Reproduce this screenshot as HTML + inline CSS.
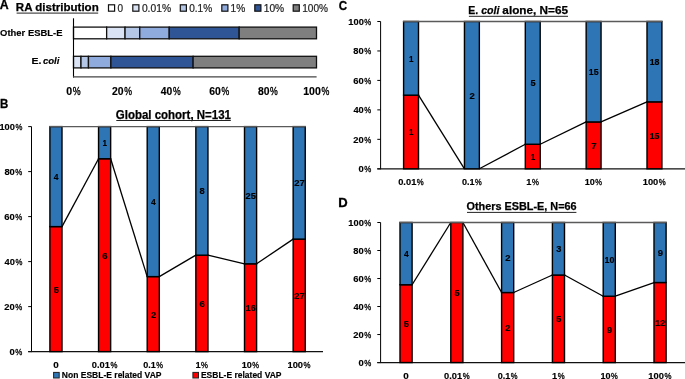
<!DOCTYPE html>
<html><head><meta charset="utf-8"><style>
html,body{margin:0;padding:0;background:#fff;}
svg{display:block;will-change:transform;}
text{font-family:"Liberation Sans",sans-serif;}
</style></head><body>
<svg width="685" height="379" viewBox="0 0 685 379">
<rect width="685" height="379" fill="#fff"/>
<text x="-0.31" y="8.80" font-size="12.65" textLength="8.93" lengthAdjust="spacingAndGlyphs" fill="#000" stroke="#000" stroke-width="0.30" style="font-weight:bold;">A</text>
<text x="15.83" y="10.90" font-size="11.34" textLength="82.88" lengthAdjust="spacingAndGlyphs" fill="#000" stroke="#000" stroke-width="0.25" style="font-weight:bold;">RA distribution</text>
<line x1="16.60" y1="13.10" x2="98.20" y2="13.10" stroke="#222" stroke-width="1.00"/>
<rect x="108.50" y="4.80" width="6.10" height="6.40" fill="#FFFFFF" stroke="#111" stroke-width="1.20"/>
<text x="117.61" y="11.50" font-size="10.17" textLength="5.58" lengthAdjust="spacingAndGlyphs" fill="#222" stroke="#222" stroke-width="0.20" style="font-weight:normal;">0</text>
<rect x="132.80" y="4.80" width="6.10" height="6.40" fill="#DAE3F3" stroke="#111" stroke-width="1.20"/>
<text x="141.90" y="11.50" font-size="10.17" textLength="29.17" lengthAdjust="spacingAndGlyphs" fill="#222" stroke="#222" stroke-width="0.20" style="font-weight:normal;">0.01%</text>
<rect x="180.30" y="4.80" width="6.10" height="6.40" fill="#B4C7E7" stroke="#111" stroke-width="1.20"/>
<text x="189.21" y="11.50" font-size="10.17" textLength="22.95" lengthAdjust="spacingAndGlyphs" fill="#222" stroke="#222" stroke-width="0.20" style="font-weight:normal;">0.1%</text>
<rect x="221.80" y="4.80" width="6.10" height="6.40" fill="#8FAADC" stroke="#111" stroke-width="1.20"/>
<text x="230.53" y="11.50" font-size="10.17" textLength="14.63" lengthAdjust="spacingAndGlyphs" fill="#222" stroke="#222" stroke-width="0.20" style="font-weight:normal;">1%</text>
<rect x="254.80" y="4.80" width="6.10" height="6.40" fill="#2F5597" stroke="#111" stroke-width="1.20"/>
<text x="263.72" y="11.50" font-size="10.17" textLength="20.44" lengthAdjust="spacingAndGlyphs" fill="#222" stroke="#222" stroke-width="0.20" style="font-weight:normal;">10%</text>
<rect x="293.20" y="4.80" width="6.10" height="6.40" fill="#7F7F7F" stroke="#111" stroke-width="1.20"/>
<text x="302.23" y="11.50" font-size="10.17" textLength="25.72" lengthAdjust="spacingAndGlyphs" fill="#222" stroke="#222" stroke-width="0.20" style="font-weight:normal;">100%</text>
<rect x="73.50" y="27.10" width="33.14" height="11.70" fill="#FFFFFF" stroke="#111" stroke-width="1.30"/>
<rect x="106.64" y="27.10" width="18.41" height="11.70" fill="#DAE3F3" stroke="#111" stroke-width="1.30"/>
<rect x="125.05" y="27.10" width="14.73" height="11.70" fill="#B4C7E7" stroke="#111" stroke-width="1.30"/>
<rect x="139.77" y="27.10" width="29.45" height="11.70" fill="#8FAADC" stroke="#111" stroke-width="1.30"/>
<rect x="169.23" y="27.10" width="69.95" height="11.70" fill="#2F5597" stroke="#111" stroke-width="1.30"/>
<rect x="239.18" y="27.10" width="77.32" height="11.70" fill="#7F7F7F" stroke="#111" stroke-width="1.30"/>
<rect x="73.50" y="56.30" width="7.48" height="11.60" fill="#DAE3F3" stroke="#111" stroke-width="1.30"/>
<rect x="80.98" y="56.30" width="7.48" height="11.60" fill="#B4C7E7" stroke="#111" stroke-width="1.30"/>
<rect x="88.45" y="56.30" width="22.43" height="11.60" fill="#8FAADC" stroke="#111" stroke-width="1.30"/>
<rect x="110.88" y="56.30" width="82.25" height="11.60" fill="#2F5597" stroke="#111" stroke-width="1.30"/>
<rect x="193.13" y="56.30" width="123.37" height="11.60" fill="#7F7F7F" stroke="#111" stroke-width="1.30"/>
<line x1="73.50" y1="18.30" x2="73.50" y2="77.50" stroke="#000" stroke-width="1.10"/>
<line x1="73.00" y1="76.90" x2="316.60" y2="76.90" stroke="#444" stroke-width="1.40"/>
<text x="0.11" y="35.80" font-size="9.59" textLength="62.36" lengthAdjust="spacingAndGlyphs" fill="#000" stroke="#000" stroke-width="0.15" style="font-weight:bold;">Other ESBL-E</text>
<text x="31.40" y="64.30" font-size="9.30" textLength="9.93" lengthAdjust="spacingAndGlyphs" fill="#000" stroke="#000" stroke-width="0.15" style="font-weight:bold;">E.</text>
<text x="42.90" y="64.30" font-size="9.30" textLength="16.53" lengthAdjust="spacingAndGlyphs" fill="#000" stroke="#000" stroke-width="0.15" style="font-weight:bold;font-style:italic;">coli</text>
<text x="66.23" y="95.20" font-size="10.17" textLength="5.89" lengthAdjust="spacingAndGlyphs" fill="#000" stroke="#000" stroke-width="0.15" style="font-weight:bold">0</text><text x="72.72" y="95.20" font-size="10.17" textLength="7.88" lengthAdjust="spacingAndGlyphs" fill="#000" stroke="#000" stroke-width="0.35" style="font-weight:normal">%</text>
<text x="112.09" y="95.20" font-size="10.17" textLength="5.79" lengthAdjust="spacingAndGlyphs" fill="#000" stroke="#000" stroke-width="0.15" style="font-weight:bold">2</text><text x="117.88" y="95.20" font-size="10.17" textLength="5.79" lengthAdjust="spacingAndGlyphs" fill="#000" stroke="#000" stroke-width="0.15" style="font-weight:bold">0</text><text x="124.25" y="95.20" font-size="10.17" textLength="7.74" lengthAdjust="spacingAndGlyphs" fill="#000" stroke="#000" stroke-width="0.35" style="font-weight:normal">%</text>
<text x="160.89" y="95.20" font-size="10.17" textLength="5.73" lengthAdjust="spacingAndGlyphs" fill="#000" stroke="#000" stroke-width="0.15" style="font-weight:bold">4</text><text x="166.62" y="95.20" font-size="10.17" textLength="5.73" lengthAdjust="spacingAndGlyphs" fill="#000" stroke="#000" stroke-width="0.15" style="font-weight:bold">0</text><text x="172.93" y="95.20" font-size="10.17" textLength="7.66" lengthAdjust="spacingAndGlyphs" fill="#000" stroke="#000" stroke-width="0.35" style="font-weight:normal">%</text>
<text x="209.27" y="95.20" font-size="10.17" textLength="5.80" lengthAdjust="spacingAndGlyphs" fill="#000" stroke="#000" stroke-width="0.15" style="font-weight:bold">6</text><text x="215.06" y="95.20" font-size="10.17" textLength="5.80" lengthAdjust="spacingAndGlyphs" fill="#000" stroke="#000" stroke-width="0.15" style="font-weight:bold">0</text><text x="221.44" y="95.20" font-size="10.17" textLength="7.75" lengthAdjust="spacingAndGlyphs" fill="#000" stroke="#000" stroke-width="0.35" style="font-weight:normal">%</text>
<text x="257.92" y="95.20" font-size="10.17" textLength="5.78" lengthAdjust="spacingAndGlyphs" fill="#000" stroke="#000" stroke-width="0.15" style="font-weight:bold">8</text><text x="263.70" y="95.20" font-size="10.17" textLength="5.78" lengthAdjust="spacingAndGlyphs" fill="#000" stroke="#000" stroke-width="0.15" style="font-weight:bold">0</text><text x="270.06" y="95.20" font-size="10.17" textLength="7.73" lengthAdjust="spacingAndGlyphs" fill="#000" stroke="#000" stroke-width="0.35" style="font-weight:normal">%</text>
<text x="303.23" y="95.20" font-size="10.17" textLength="5.88" lengthAdjust="spacingAndGlyphs" fill="#000" stroke="#000" stroke-width="0.15" style="font-weight:bold">1</text><text x="309.12" y="95.20" font-size="10.17" textLength="5.88" lengthAdjust="spacingAndGlyphs" fill="#000" stroke="#000" stroke-width="0.15" style="font-weight:bold">0</text><text x="315.00" y="95.20" font-size="10.17" textLength="5.88" lengthAdjust="spacingAndGlyphs" fill="#000" stroke="#000" stroke-width="0.15" style="font-weight:bold">0</text><text x="321.48" y="95.20" font-size="10.17" textLength="7.87" lengthAdjust="spacingAndGlyphs" fill="#000" stroke="#000" stroke-width="0.35" style="font-weight:normal">%</text>
<text x="0.03" y="108.30" font-size="13.08" textLength="8.29" lengthAdjust="spacingAndGlyphs" fill="#000" stroke="#000" stroke-width="0.30" style="font-weight:bold;">B</text>
<text x="115.83" y="118.60" font-size="11.92" textLength="115.09" lengthAdjust="spacingAndGlyphs" fill="#000" stroke="#000" stroke-width="0.25" style="font-weight:bold;">Global cohort, N=131</text>
<line x1="116.30" y1="120.50" x2="230.80" y2="120.50" stroke="#222" stroke-width="1.00"/>
<line x1="31.50" y1="126.60" x2="31.50" y2="352.10" stroke="#000" stroke-width="1.00"/>
<line x1="28.20" y1="351.60" x2="31.50" y2="351.60" stroke="#000" stroke-width="1.00"/>
<text x="9.53" y="355.00" font-size="9.88" textLength="5.25" lengthAdjust="spacingAndGlyphs" fill="#000" stroke="#000" stroke-width="0.15" style="font-weight:bold">0</text><text x="15.30" y="355.00" font-size="9.88" textLength="7.02" lengthAdjust="spacingAndGlyphs" fill="#000" stroke="#000" stroke-width="0.35" style="font-weight:normal">%</text>
<line x1="28.20" y1="306.60" x2="31.50" y2="306.60" stroke="#000" stroke-width="1.00"/>
<text x="4.37" y="310.00" font-size="9.88" textLength="5.22" lengthAdjust="spacingAndGlyphs" fill="#000" stroke="#000" stroke-width="0.15" style="font-weight:bold">2</text><text x="9.59" y="310.00" font-size="9.88" textLength="5.22" lengthAdjust="spacingAndGlyphs" fill="#000" stroke="#000" stroke-width="0.15" style="font-weight:bold">0</text><text x="15.34" y="310.00" font-size="9.88" textLength="6.98" lengthAdjust="spacingAndGlyphs" fill="#000" stroke="#000" stroke-width="0.35" style="font-weight:normal">%</text>
<line x1="28.20" y1="261.60" x2="31.50" y2="261.60" stroke="#000" stroke-width="1.00"/>
<text x="4.56" y="265.00" font-size="9.88" textLength="5.17" lengthAdjust="spacingAndGlyphs" fill="#000" stroke="#000" stroke-width="0.15" style="font-weight:bold">4</text><text x="9.72" y="265.00" font-size="9.88" textLength="5.17" lengthAdjust="spacingAndGlyphs" fill="#000" stroke="#000" stroke-width="0.15" style="font-weight:bold">0</text><text x="15.41" y="265.00" font-size="9.88" textLength="6.91" lengthAdjust="spacingAndGlyphs" fill="#000" stroke="#000" stroke-width="0.35" style="font-weight:normal">%</text>
<line x1="28.20" y1="216.60" x2="31.50" y2="216.60" stroke="#000" stroke-width="1.00"/>
<text x="4.36" y="220.00" font-size="9.88" textLength="5.23" lengthAdjust="spacingAndGlyphs" fill="#000" stroke="#000" stroke-width="0.15" style="font-weight:bold">6</text><text x="9.58" y="220.00" font-size="9.88" textLength="5.23" lengthAdjust="spacingAndGlyphs" fill="#000" stroke="#000" stroke-width="0.15" style="font-weight:bold">0</text><text x="15.33" y="220.00" font-size="9.88" textLength="6.99" lengthAdjust="spacingAndGlyphs" fill="#000" stroke="#000" stroke-width="0.35" style="font-weight:normal">%</text>
<line x1="28.20" y1="171.60" x2="31.50" y2="171.60" stroke="#000" stroke-width="1.00"/>
<text x="4.40" y="175.00" font-size="9.88" textLength="5.21" lengthAdjust="spacingAndGlyphs" fill="#000" stroke="#000" stroke-width="0.15" style="font-weight:bold">8</text><text x="9.61" y="175.00" font-size="9.88" textLength="5.21" lengthAdjust="spacingAndGlyphs" fill="#000" stroke="#000" stroke-width="0.15" style="font-weight:bold">0</text><text x="15.35" y="175.00" font-size="9.88" textLength="6.97" lengthAdjust="spacingAndGlyphs" fill="#000" stroke="#000" stroke-width="0.35" style="font-weight:normal">%</text>
<line x1="28.20" y1="126.60" x2="31.50" y2="126.60" stroke="#000" stroke-width="1.00"/>
<text x="-0.58" y="130.00" font-size="9.88" textLength="5.16" lengthAdjust="spacingAndGlyphs" fill="#000" stroke="#000" stroke-width="0.15" style="font-weight:bold">1</text><text x="4.58" y="130.00" font-size="9.88" textLength="5.16" lengthAdjust="spacingAndGlyphs" fill="#000" stroke="#000" stroke-width="0.15" style="font-weight:bold">0</text><text x="9.74" y="130.00" font-size="9.88" textLength="5.16" lengthAdjust="spacingAndGlyphs" fill="#000" stroke="#000" stroke-width="0.15" style="font-weight:bold">0</text><text x="15.42" y="130.00" font-size="9.88" textLength="6.90" lengthAdjust="spacingAndGlyphs" fill="#000" stroke="#000" stroke-width="0.35" style="font-weight:normal">%</text>
<line x1="28.20" y1="351.60" x2="323.00" y2="351.60" stroke="#111" stroke-width="1.35"/>
<rect x="49.90" y="226.60" width="12.10" height="125.00" fill="#FF0000" stroke="#000" stroke-width="1.40"/>
<rect x="49.90" y="126.60" width="12.10" height="100.00" fill="#2E75B6" stroke="#000" stroke-width="1.40"/>
<text x="53.67" y="292.50" font-size="9.01" textLength="5.14" lengthAdjust="spacingAndGlyphs" fill="#000" stroke="#000" stroke-width="0.15" style="font-weight:bold">5</text>
<text x="53.82" y="180.00" font-size="9.01" textLength="4.78" lengthAdjust="spacingAndGlyphs" fill="#000" stroke="#000" stroke-width="0.15" style="font-weight:bold">4</text>
<text x="53.21" y="367.80" font-size="9.74" textLength="5.50" lengthAdjust="spacingAndGlyphs" fill="#000" stroke="#000" stroke-width="0.15" style="font-weight:bold">0</text>
<rect x="98.55" y="158.74" width="12.10" height="192.86" fill="#FF0000" stroke="#000" stroke-width="1.40"/>
<rect x="98.55" y="126.60" width="12.10" height="32.14" fill="#2E75B6" stroke="#000" stroke-width="1.40"/>
<text x="102.25" y="258.57" font-size="9.01" textLength="5.29" lengthAdjust="spacingAndGlyphs" fill="#000" stroke="#000" stroke-width="0.15" style="font-weight:bold">6</text>
<text x="102.49" y="146.07" font-size="9.01" textLength="4.54" lengthAdjust="spacingAndGlyphs" fill="#000" stroke="#000" stroke-width="0.15" style="font-weight:bold">1</text>
<text x="91.73" y="367.80" font-size="9.74" textLength="5.18" lengthAdjust="spacingAndGlyphs" fill="#000" stroke="#000" stroke-width="0.15" style="font-weight:bold">0</text><text x="96.92" y="367.80" font-size="9.74" textLength="2.58" lengthAdjust="spacingAndGlyphs" fill="#000" stroke="#000" stroke-width="0.15" style="font-weight:bold">.</text><text x="99.50" y="367.80" font-size="9.74" textLength="5.18" lengthAdjust="spacingAndGlyphs" fill="#000" stroke="#000" stroke-width="0.15" style="font-weight:bold">0</text><text x="104.68" y="367.80" font-size="9.74" textLength="5.18" lengthAdjust="spacingAndGlyphs" fill="#000" stroke="#000" stroke-width="0.15" style="font-weight:bold">1</text><text x="110.39" y="367.80" font-size="9.74" textLength="6.93" lengthAdjust="spacingAndGlyphs" fill="#000" stroke="#000" stroke-width="0.35" style="font-weight:normal">%</text>
<rect x="147.20" y="276.60" width="12.10" height="75.00" fill="#FF0000" stroke="#000" stroke-width="1.40"/>
<rect x="147.20" y="126.60" width="12.10" height="150.00" fill="#2E75B6" stroke="#000" stroke-width="1.40"/>
<text x="150.92" y="317.50" font-size="9.01" textLength="5.31" lengthAdjust="spacingAndGlyphs" fill="#000" stroke="#000" stroke-width="0.15" style="font-weight:bold">2</text>
<text x="151.12" y="205.00" font-size="9.01" textLength="4.78" lengthAdjust="spacingAndGlyphs" fill="#000" stroke="#000" stroke-width="0.15" style="font-weight:bold">4</text>
<text x="143.24" y="367.80" font-size="9.74" textLength="5.05" lengthAdjust="spacingAndGlyphs" fill="#000" stroke="#000" stroke-width="0.15" style="font-weight:bold">0</text><text x="148.29" y="367.80" font-size="9.74" textLength="2.51" lengthAdjust="spacingAndGlyphs" fill="#000" stroke="#000" stroke-width="0.15" style="font-weight:bold">.</text><text x="150.80" y="367.80" font-size="9.74" textLength="5.05" lengthAdjust="spacingAndGlyphs" fill="#000" stroke="#000" stroke-width="0.15" style="font-weight:bold">1</text><text x="156.36" y="367.80" font-size="9.74" textLength="6.75" lengthAdjust="spacingAndGlyphs" fill="#000" stroke="#000" stroke-width="0.35" style="font-weight:normal">%</text>
<rect x="195.85" y="255.17" width="12.10" height="96.43" fill="#FF0000" stroke="#000" stroke-width="1.40"/>
<rect x="195.85" y="126.60" width="12.10" height="128.57" fill="#2E75B6" stroke="#000" stroke-width="1.40"/>
<text x="199.55" y="306.79" font-size="9.01" textLength="5.29" lengthAdjust="spacingAndGlyphs" fill="#000" stroke="#000" stroke-width="0.15" style="font-weight:bold">6</text>
<text x="199.60" y="194.29" font-size="9.01" textLength="5.18" lengthAdjust="spacingAndGlyphs" fill="#000" stroke="#000" stroke-width="0.15" style="font-weight:bold">8</text>
<text x="195.41" y="367.80" font-size="9.74" textLength="5.17" lengthAdjust="spacingAndGlyphs" fill="#000" stroke="#000" stroke-width="0.15" style="font-weight:bold">1</text><text x="201.10" y="367.80" font-size="9.74" textLength="6.92" lengthAdjust="spacingAndGlyphs" fill="#000" stroke="#000" stroke-width="0.35" style="font-weight:normal">%</text>
<rect x="244.50" y="263.80" width="12.10" height="87.80" fill="#FF0000" stroke="#000" stroke-width="1.40"/>
<rect x="244.50" y="126.60" width="12.10" height="137.20" fill="#2E75B6" stroke="#000" stroke-width="1.40"/>
<text x="245.79" y="311.10" font-size="9.01" textLength="4.94" lengthAdjust="spacingAndGlyphs" fill="#000" stroke="#000" stroke-width="0.15" style="font-weight:bold">1</text><text x="250.73" y="311.10" font-size="9.01" textLength="4.94" lengthAdjust="spacingAndGlyphs" fill="#000" stroke="#000" stroke-width="0.15" style="font-weight:bold">6</text>
<text x="245.63" y="198.60" font-size="9.01" textLength="5.19" lengthAdjust="spacingAndGlyphs" fill="#000" stroke="#000" stroke-width="0.15" style="font-weight:bold">2</text><text x="250.82" y="198.60" font-size="9.01" textLength="5.19" lengthAdjust="spacingAndGlyphs" fill="#000" stroke="#000" stroke-width="0.15" style="font-weight:bold">5</text>
<text x="241.68" y="367.80" font-size="9.74" textLength="5.06" lengthAdjust="spacingAndGlyphs" fill="#000" stroke="#000" stroke-width="0.15" style="font-weight:bold">1</text><text x="246.73" y="367.80" font-size="9.74" textLength="5.06" lengthAdjust="spacingAndGlyphs" fill="#000" stroke="#000" stroke-width="0.15" style="font-weight:bold">0</text><text x="252.30" y="367.80" font-size="9.74" textLength="6.76" lengthAdjust="spacingAndGlyphs" fill="#000" stroke="#000" stroke-width="0.35" style="font-weight:normal">%</text>
<rect x="293.15" y="239.10" width="12.10" height="112.50" fill="#FF0000" stroke="#000" stroke-width="1.40"/>
<rect x="293.15" y="126.60" width="12.10" height="112.50" fill="#2E75B6" stroke="#000" stroke-width="1.40"/>
<text x="294.27" y="298.75" font-size="9.01" textLength="5.27" lengthAdjust="spacingAndGlyphs" fill="#000" stroke="#000" stroke-width="0.15" style="font-weight:bold">2</text><text x="299.54" y="298.75" font-size="9.01" textLength="5.27" lengthAdjust="spacingAndGlyphs" fill="#000" stroke="#000" stroke-width="0.15" style="font-weight:bold">7</text>
<text x="294.27" y="186.25" font-size="9.01" textLength="5.27" lengthAdjust="spacingAndGlyphs" fill="#000" stroke="#000" stroke-width="0.15" style="font-weight:bold">2</text><text x="299.54" y="186.25" font-size="9.01" textLength="5.27" lengthAdjust="spacingAndGlyphs" fill="#000" stroke="#000" stroke-width="0.15" style="font-weight:bold">7</text>
<text x="287.46" y="367.80" font-size="9.74" textLength="5.21" lengthAdjust="spacingAndGlyphs" fill="#000" stroke="#000" stroke-width="0.15" style="font-weight:bold">1</text><text x="292.67" y="367.80" font-size="9.74" textLength="5.21" lengthAdjust="spacingAndGlyphs" fill="#000" stroke="#000" stroke-width="0.15" style="font-weight:bold">0</text><text x="297.87" y="367.80" font-size="9.74" textLength="5.21" lengthAdjust="spacingAndGlyphs" fill="#000" stroke="#000" stroke-width="0.15" style="font-weight:bold">0</text><text x="303.61" y="367.80" font-size="9.74" textLength="6.97" lengthAdjust="spacingAndGlyphs" fill="#000" stroke="#000" stroke-width="0.35" style="font-weight:normal">%</text>
<line x1="62.00" y1="226.60" x2="98.55" y2="158.74" stroke="#000" stroke-width="1.30"/>
<line x1="110.65" y1="158.74" x2="147.20" y2="276.60" stroke="#000" stroke-width="1.30"/>
<line x1="159.30" y1="276.60" x2="195.85" y2="255.17" stroke="#000" stroke-width="1.30"/>
<line x1="207.95" y1="255.17" x2="244.50" y2="263.80" stroke="#000" stroke-width="1.30"/>
<line x1="256.60" y1="263.80" x2="293.15" y2="239.10" stroke="#000" stroke-width="1.30"/>
<line x1="49.20" y1="126.60" x2="305.95" y2="126.60" stroke="#5a5a5a" stroke-width="1.30"/>
<rect x="53.60" y="372.40" width="5.60" height="5.60" fill="#2E75B6" stroke="#222" stroke-width="1.00"/>
<text x="61.83" y="377.70" font-size="8.43" textLength="99.66" lengthAdjust="spacingAndGlyphs" fill="#000" stroke="#000" stroke-width="0.15" style="font-weight:bold;">Non ESBL-E related VAP</text>
<rect x="192.90" y="372.40" width="5.60" height="5.60" fill="#FF0000" stroke="#222" stroke-width="1.00"/>
<text x="200.94" y="377.70" font-size="8.43" textLength="80.55" lengthAdjust="spacingAndGlyphs" fill="#000" stroke="#000" stroke-width="0.15" style="font-weight:bold;">ESBL-E related VAP</text>
<text x="338.82" y="9.90" font-size="12.65" textLength="8.39" lengthAdjust="spacingAndGlyphs" fill="#000" stroke="#000" stroke-width="0.30" style="font-weight:bold;">C</text>
<text x="468.20" y="14.00" font-size="11.48" textLength="9.93" lengthAdjust="spacingAndGlyphs" fill="#000" stroke="#000" stroke-width="0.25" style="font-weight:bold;">E.</text>
<text x="481.17" y="14.00" font-size="11.48" textLength="18.24" lengthAdjust="spacingAndGlyphs" fill="#000" stroke="#000" stroke-width="0.25" style="font-weight:bold;font-style:italic;">coli</text>
<text x="502.36" y="14.00" font-size="11.48" textLength="65.67" lengthAdjust="spacingAndGlyphs" fill="#000" stroke="#000" stroke-width="0.25" style="font-weight:bold;">alone, N=65</text>
<line x1="468.90" y1="16.30" x2="568.00" y2="16.30" stroke="#222" stroke-width="1.00"/>
<line x1="380.60" y1="21.50" x2="380.60" y2="169.30" stroke="#000" stroke-width="1.00"/>
<line x1="377.30" y1="168.80" x2="380.60" y2="168.80" stroke="#000" stroke-width="1.00"/>
<text x="358.43" y="172.20" font-size="9.88" textLength="5.25" lengthAdjust="spacingAndGlyphs" fill="#000" stroke="#000" stroke-width="0.15" style="font-weight:bold">0</text><text x="364.20" y="172.20" font-size="9.88" textLength="7.02" lengthAdjust="spacingAndGlyphs" fill="#000" stroke="#000" stroke-width="0.35" style="font-weight:normal">%</text>
<line x1="377.30" y1="139.34" x2="380.60" y2="139.34" stroke="#000" stroke-width="1.00"/>
<text x="353.27" y="142.74" font-size="9.88" textLength="5.22" lengthAdjust="spacingAndGlyphs" fill="#000" stroke="#000" stroke-width="0.15" style="font-weight:bold">2</text><text x="358.49" y="142.74" font-size="9.88" textLength="5.22" lengthAdjust="spacingAndGlyphs" fill="#000" stroke="#000" stroke-width="0.15" style="font-weight:bold">0</text><text x="364.24" y="142.74" font-size="9.88" textLength="6.98" lengthAdjust="spacingAndGlyphs" fill="#000" stroke="#000" stroke-width="0.35" style="font-weight:normal">%</text>
<line x1="377.30" y1="109.88" x2="380.60" y2="109.88" stroke="#000" stroke-width="1.00"/>
<text x="353.46" y="113.28" font-size="9.88" textLength="5.17" lengthAdjust="spacingAndGlyphs" fill="#000" stroke="#000" stroke-width="0.15" style="font-weight:bold">4</text><text x="358.62" y="113.28" font-size="9.88" textLength="5.17" lengthAdjust="spacingAndGlyphs" fill="#000" stroke="#000" stroke-width="0.15" style="font-weight:bold">0</text><text x="364.31" y="113.28" font-size="9.88" textLength="6.91" lengthAdjust="spacingAndGlyphs" fill="#000" stroke="#000" stroke-width="0.35" style="font-weight:normal">%</text>
<line x1="377.30" y1="80.42" x2="380.60" y2="80.42" stroke="#000" stroke-width="1.00"/>
<text x="353.26" y="83.82" font-size="9.88" textLength="5.23" lengthAdjust="spacingAndGlyphs" fill="#000" stroke="#000" stroke-width="0.15" style="font-weight:bold">6</text><text x="358.48" y="83.82" font-size="9.88" textLength="5.23" lengthAdjust="spacingAndGlyphs" fill="#000" stroke="#000" stroke-width="0.15" style="font-weight:bold">0</text><text x="364.23" y="83.82" font-size="9.88" textLength="6.99" lengthAdjust="spacingAndGlyphs" fill="#000" stroke="#000" stroke-width="0.35" style="font-weight:normal">%</text>
<line x1="377.30" y1="50.96" x2="380.60" y2="50.96" stroke="#000" stroke-width="1.00"/>
<text x="353.30" y="54.36" font-size="9.88" textLength="5.21" lengthAdjust="spacingAndGlyphs" fill="#000" stroke="#000" stroke-width="0.15" style="font-weight:bold">8</text><text x="358.51" y="54.36" font-size="9.88" textLength="5.21" lengthAdjust="spacingAndGlyphs" fill="#000" stroke="#000" stroke-width="0.15" style="font-weight:bold">0</text><text x="364.25" y="54.36" font-size="9.88" textLength="6.97" lengthAdjust="spacingAndGlyphs" fill="#000" stroke="#000" stroke-width="0.35" style="font-weight:normal">%</text>
<line x1="377.30" y1="21.50" x2="380.60" y2="21.50" stroke="#000" stroke-width="1.00"/>
<text x="348.32" y="24.90" font-size="9.88" textLength="5.16" lengthAdjust="spacingAndGlyphs" fill="#000" stroke="#000" stroke-width="0.15" style="font-weight:bold">1</text><text x="353.48" y="24.90" font-size="9.88" textLength="5.16" lengthAdjust="spacingAndGlyphs" fill="#000" stroke="#000" stroke-width="0.15" style="font-weight:bold">0</text><text x="358.64" y="24.90" font-size="9.88" textLength="5.16" lengthAdjust="spacingAndGlyphs" fill="#000" stroke="#000" stroke-width="0.15" style="font-weight:bold">0</text><text x="364.32" y="24.90" font-size="9.88" textLength="6.90" lengthAdjust="spacingAndGlyphs" fill="#000" stroke="#000" stroke-width="0.35" style="font-weight:normal">%</text>
<line x1="377.30" y1="168.80" x2="685.00" y2="168.80" stroke="#111" stroke-width="1.35"/>
<rect x="403.60" y="95.15" width="14.90" height="73.65" fill="#FF0000" stroke="#000" stroke-width="1.40"/>
<rect x="403.60" y="21.50" width="14.90" height="73.65" fill="#2E75B6" stroke="#000" stroke-width="1.40"/>
<text x="408.94" y="135.38" font-size="9.01" textLength="4.54" lengthAdjust="spacingAndGlyphs" fill="#000" stroke="#000" stroke-width="0.15" style="font-weight:bold">1</text>
<text x="408.94" y="61.73" font-size="9.01" textLength="4.54" lengthAdjust="spacingAndGlyphs" fill="#000" stroke="#000" stroke-width="0.15" style="font-weight:bold">1</text>
<text x="398.18" y="184.80" font-size="9.74" textLength="5.18" lengthAdjust="spacingAndGlyphs" fill="#000" stroke="#000" stroke-width="0.15" style="font-weight:bold">0</text><text x="403.37" y="184.80" font-size="9.74" textLength="2.58" lengthAdjust="spacingAndGlyphs" fill="#000" stroke="#000" stroke-width="0.15" style="font-weight:bold">.</text><text x="405.95" y="184.80" font-size="9.74" textLength="5.18" lengthAdjust="spacingAndGlyphs" fill="#000" stroke="#000" stroke-width="0.15" style="font-weight:bold">0</text><text x="411.13" y="184.80" font-size="9.74" textLength="5.18" lengthAdjust="spacingAndGlyphs" fill="#000" stroke="#000" stroke-width="0.15" style="font-weight:bold">1</text><text x="416.84" y="184.80" font-size="9.74" textLength="6.93" lengthAdjust="spacingAndGlyphs" fill="#000" stroke="#000" stroke-width="0.35" style="font-weight:normal">%</text>
<rect x="464.45" y="21.50" width="14.90" height="147.30" fill="#2E75B6" stroke="#000" stroke-width="1.40"/>
<text x="469.57" y="98.55" font-size="9.01" textLength="5.31" lengthAdjust="spacingAndGlyphs" fill="#000" stroke="#000" stroke-width="0.15" style="font-weight:bold">2</text>
<text x="461.89" y="184.80" font-size="9.74" textLength="5.05" lengthAdjust="spacingAndGlyphs" fill="#000" stroke="#000" stroke-width="0.15" style="font-weight:bold">0</text><text x="466.94" y="184.80" font-size="9.74" textLength="2.51" lengthAdjust="spacingAndGlyphs" fill="#000" stroke="#000" stroke-width="0.15" style="font-weight:bold">.</text><text x="469.45" y="184.80" font-size="9.74" textLength="5.05" lengthAdjust="spacingAndGlyphs" fill="#000" stroke="#000" stroke-width="0.15" style="font-weight:bold">1</text><text x="475.01" y="184.80" font-size="9.74" textLength="6.75" lengthAdjust="spacingAndGlyphs" fill="#000" stroke="#000" stroke-width="0.35" style="font-weight:normal">%</text>
<rect x="525.30" y="144.25" width="14.90" height="24.55" fill="#FF0000" stroke="#000" stroke-width="1.40"/>
<rect x="525.30" y="21.50" width="14.90" height="122.75" fill="#2E75B6" stroke="#000" stroke-width="1.40"/>
<text x="530.64" y="159.93" font-size="9.01" textLength="4.54" lengthAdjust="spacingAndGlyphs" fill="#000" stroke="#000" stroke-width="0.15" style="font-weight:bold">1</text>
<text x="530.47" y="86.27" font-size="9.01" textLength="5.14" lengthAdjust="spacingAndGlyphs" fill="#000" stroke="#000" stroke-width="0.15" style="font-weight:bold">5</text>
<text x="526.26" y="184.80" font-size="9.74" textLength="5.17" lengthAdjust="spacingAndGlyphs" fill="#000" stroke="#000" stroke-width="0.15" style="font-weight:bold">1</text><text x="531.95" y="184.80" font-size="9.74" textLength="6.92" lengthAdjust="spacingAndGlyphs" fill="#000" stroke="#000" stroke-width="0.35" style="font-weight:normal">%</text>
<rect x="586.15" y="121.93" width="14.90" height="46.87" fill="#FF0000" stroke="#000" stroke-width="1.40"/>
<rect x="586.15" y="21.50" width="14.90" height="100.43" fill="#2E75B6" stroke="#000" stroke-width="1.40"/>
<text x="591.18" y="148.77" font-size="9.01" textLength="5.45" lengthAdjust="spacingAndGlyphs" fill="#000" stroke="#000" stroke-width="0.15" style="font-weight:bold">7</text>
<text x="588.85" y="75.12" font-size="9.01" textLength="4.90" lengthAdjust="spacingAndGlyphs" fill="#000" stroke="#000" stroke-width="0.15" style="font-weight:bold">1</text><text x="593.75" y="75.12" font-size="9.01" textLength="4.90" lengthAdjust="spacingAndGlyphs" fill="#000" stroke="#000" stroke-width="0.15" style="font-weight:bold">5</text>
<text x="584.73" y="184.80" font-size="9.74" textLength="5.06" lengthAdjust="spacingAndGlyphs" fill="#000" stroke="#000" stroke-width="0.15" style="font-weight:bold">1</text><text x="589.78" y="184.80" font-size="9.74" textLength="5.06" lengthAdjust="spacingAndGlyphs" fill="#000" stroke="#000" stroke-width="0.15" style="font-weight:bold">0</text><text x="595.35" y="184.80" font-size="9.74" textLength="6.76" lengthAdjust="spacingAndGlyphs" fill="#000" stroke="#000" stroke-width="0.35" style="font-weight:normal">%</text>
<rect x="647.00" y="101.85" width="14.90" height="66.95" fill="#FF0000" stroke="#000" stroke-width="1.40"/>
<rect x="647.00" y="21.50" width="14.90" height="80.35" fill="#2E75B6" stroke="#000" stroke-width="1.40"/>
<text x="649.70" y="138.72" font-size="9.01" textLength="4.90" lengthAdjust="spacingAndGlyphs" fill="#000" stroke="#000" stroke-width="0.15" style="font-weight:bold">1</text><text x="654.60" y="138.72" font-size="9.01" textLength="4.90" lengthAdjust="spacingAndGlyphs" fill="#000" stroke="#000" stroke-width="0.15" style="font-weight:bold">5</text>
<text x="649.69" y="65.07" font-size="9.01" textLength="4.91" lengthAdjust="spacingAndGlyphs" fill="#000" stroke="#000" stroke-width="0.15" style="font-weight:bold">1</text><text x="654.61" y="65.07" font-size="9.01" textLength="4.91" lengthAdjust="spacingAndGlyphs" fill="#000" stroke="#000" stroke-width="0.15" style="font-weight:bold">8</text>
<text x="642.71" y="184.80" font-size="9.74" textLength="5.21" lengthAdjust="spacingAndGlyphs" fill="#000" stroke="#000" stroke-width="0.15" style="font-weight:bold">1</text><text x="647.92" y="184.80" font-size="9.74" textLength="5.21" lengthAdjust="spacingAndGlyphs" fill="#000" stroke="#000" stroke-width="0.15" style="font-weight:bold">0</text><text x="653.12" y="184.80" font-size="9.74" textLength="5.21" lengthAdjust="spacingAndGlyphs" fill="#000" stroke="#000" stroke-width="0.15" style="font-weight:bold">0</text><text x="658.86" y="184.80" font-size="9.74" textLength="6.97" lengthAdjust="spacingAndGlyphs" fill="#000" stroke="#000" stroke-width="0.35" style="font-weight:normal">%</text>
<line x1="418.50" y1="95.15" x2="464.45" y2="168.80" stroke="#000" stroke-width="1.30"/>
<line x1="479.35" y1="168.80" x2="525.30" y2="144.25" stroke="#000" stroke-width="1.30"/>
<line x1="540.20" y1="144.25" x2="586.15" y2="121.93" stroke="#000" stroke-width="1.30"/>
<line x1="601.05" y1="121.93" x2="647.00" y2="101.85" stroke="#000" stroke-width="1.30"/>
<line x1="402.90" y1="21.50" x2="662.60" y2="21.50" stroke="#5a5a5a" stroke-width="1.30"/>
<text x="338.33" y="206.80" font-size="12.94" textLength="9.42" lengthAdjust="spacingAndGlyphs" fill="#000" stroke="#000" stroke-width="0.30" style="font-weight:bold;">D</text>
<text x="466.55" y="210.20" font-size="11.19" textLength="110.04" lengthAdjust="spacingAndGlyphs" fill="#000" stroke="#000" stroke-width="0.25" style="font-weight:bold;">Others ESBL-E, N=66</text>
<line x1="467.00" y1="212.40" x2="576.40" y2="212.40" stroke="#222" stroke-width="1.00"/>
<line x1="380.60" y1="222.50" x2="380.60" y2="363.05" stroke="#000" stroke-width="1.00"/>
<line x1="377.30" y1="362.55" x2="380.60" y2="362.55" stroke="#000" stroke-width="1.00"/>
<text x="358.43" y="365.95" font-size="9.88" textLength="5.25" lengthAdjust="spacingAndGlyphs" fill="#000" stroke="#000" stroke-width="0.15" style="font-weight:bold">0</text><text x="364.20" y="365.95" font-size="9.88" textLength="7.02" lengthAdjust="spacingAndGlyphs" fill="#000" stroke="#000" stroke-width="0.35" style="font-weight:normal">%</text>
<line x1="377.30" y1="334.54" x2="380.60" y2="334.54" stroke="#000" stroke-width="1.00"/>
<text x="353.27" y="337.94" font-size="9.88" textLength="5.22" lengthAdjust="spacingAndGlyphs" fill="#000" stroke="#000" stroke-width="0.15" style="font-weight:bold">2</text><text x="358.49" y="337.94" font-size="9.88" textLength="5.22" lengthAdjust="spacingAndGlyphs" fill="#000" stroke="#000" stroke-width="0.15" style="font-weight:bold">0</text><text x="364.24" y="337.94" font-size="9.88" textLength="6.98" lengthAdjust="spacingAndGlyphs" fill="#000" stroke="#000" stroke-width="0.35" style="font-weight:normal">%</text>
<line x1="377.30" y1="306.53" x2="380.60" y2="306.53" stroke="#000" stroke-width="1.00"/>
<text x="353.46" y="309.93" font-size="9.88" textLength="5.17" lengthAdjust="spacingAndGlyphs" fill="#000" stroke="#000" stroke-width="0.15" style="font-weight:bold">4</text><text x="358.62" y="309.93" font-size="9.88" textLength="5.17" lengthAdjust="spacingAndGlyphs" fill="#000" stroke="#000" stroke-width="0.15" style="font-weight:bold">0</text><text x="364.31" y="309.93" font-size="9.88" textLength="6.91" lengthAdjust="spacingAndGlyphs" fill="#000" stroke="#000" stroke-width="0.35" style="font-weight:normal">%</text>
<line x1="377.30" y1="278.52" x2="380.60" y2="278.52" stroke="#000" stroke-width="1.00"/>
<text x="353.26" y="281.92" font-size="9.88" textLength="5.23" lengthAdjust="spacingAndGlyphs" fill="#000" stroke="#000" stroke-width="0.15" style="font-weight:bold">6</text><text x="358.48" y="281.92" font-size="9.88" textLength="5.23" lengthAdjust="spacingAndGlyphs" fill="#000" stroke="#000" stroke-width="0.15" style="font-weight:bold">0</text><text x="364.23" y="281.92" font-size="9.88" textLength="6.99" lengthAdjust="spacingAndGlyphs" fill="#000" stroke="#000" stroke-width="0.35" style="font-weight:normal">%</text>
<line x1="377.30" y1="250.51" x2="380.60" y2="250.51" stroke="#000" stroke-width="1.00"/>
<text x="353.30" y="253.91" font-size="9.88" textLength="5.21" lengthAdjust="spacingAndGlyphs" fill="#000" stroke="#000" stroke-width="0.15" style="font-weight:bold">8</text><text x="358.51" y="253.91" font-size="9.88" textLength="5.21" lengthAdjust="spacingAndGlyphs" fill="#000" stroke="#000" stroke-width="0.15" style="font-weight:bold">0</text><text x="364.25" y="253.91" font-size="9.88" textLength="6.97" lengthAdjust="spacingAndGlyphs" fill="#000" stroke="#000" stroke-width="0.35" style="font-weight:normal">%</text>
<line x1="377.30" y1="222.50" x2="380.60" y2="222.50" stroke="#000" stroke-width="1.00"/>
<text x="348.32" y="225.90" font-size="9.88" textLength="5.16" lengthAdjust="spacingAndGlyphs" fill="#000" stroke="#000" stroke-width="0.15" style="font-weight:bold">1</text><text x="353.48" y="225.90" font-size="9.88" textLength="5.16" lengthAdjust="spacingAndGlyphs" fill="#000" stroke="#000" stroke-width="0.15" style="font-weight:bold">0</text><text x="358.64" y="225.90" font-size="9.88" textLength="5.16" lengthAdjust="spacingAndGlyphs" fill="#000" stroke="#000" stroke-width="0.15" style="font-weight:bold">0</text><text x="364.32" y="225.90" font-size="9.88" textLength="6.90" lengthAdjust="spacingAndGlyphs" fill="#000" stroke="#000" stroke-width="0.35" style="font-weight:normal">%</text>
<line x1="377.30" y1="362.55" x2="685.00" y2="362.55" stroke="#111" stroke-width="1.35"/>
<rect x="400.00" y="284.74" width="12.10" height="77.81" fill="#FF0000" stroke="#000" stroke-width="1.40"/>
<rect x="400.00" y="222.50" width="12.10" height="62.24" fill="#2E75B6" stroke="#000" stroke-width="1.40"/>
<text x="403.77" y="327.05" font-size="9.01" textLength="5.14" lengthAdjust="spacingAndGlyphs" fill="#000" stroke="#000" stroke-width="0.15" style="font-weight:bold">5</text>
<text x="403.92" y="257.02" font-size="9.01" textLength="4.78" lengthAdjust="spacingAndGlyphs" fill="#000" stroke="#000" stroke-width="0.15" style="font-weight:bold">4</text>
<text x="403.31" y="378.50" font-size="9.74" textLength="5.50" lengthAdjust="spacingAndGlyphs" fill="#000" stroke="#000" stroke-width="0.15" style="font-weight:bold">0</text>
<rect x="450.80" y="222.50" width="12.10" height="140.05" fill="#FF0000" stroke="#000" stroke-width="1.40"/>
<text x="454.57" y="295.93" font-size="9.01" textLength="5.14" lengthAdjust="spacingAndGlyphs" fill="#000" stroke="#000" stroke-width="0.15" style="font-weight:bold">5</text>
<text x="443.98" y="378.50" font-size="9.74" textLength="5.18" lengthAdjust="spacingAndGlyphs" fill="#000" stroke="#000" stroke-width="0.15" style="font-weight:bold">0</text><text x="449.17" y="378.50" font-size="9.74" textLength="2.58" lengthAdjust="spacingAndGlyphs" fill="#000" stroke="#000" stroke-width="0.15" style="font-weight:bold">.</text><text x="451.75" y="378.50" font-size="9.74" textLength="5.18" lengthAdjust="spacingAndGlyphs" fill="#000" stroke="#000" stroke-width="0.15" style="font-weight:bold">0</text><text x="456.93" y="378.50" font-size="9.74" textLength="5.18" lengthAdjust="spacingAndGlyphs" fill="#000" stroke="#000" stroke-width="0.15" style="font-weight:bold">1</text><text x="462.64" y="378.50" font-size="9.74" textLength="6.93" lengthAdjust="spacingAndGlyphs" fill="#000" stroke="#000" stroke-width="0.35" style="font-weight:normal">%</text>
<rect x="501.60" y="292.52" width="12.10" height="70.03" fill="#FF0000" stroke="#000" stroke-width="1.40"/>
<rect x="501.60" y="222.50" width="12.10" height="70.02" fill="#2E75B6" stroke="#000" stroke-width="1.40"/>
<text x="505.32" y="330.94" font-size="9.01" textLength="5.31" lengthAdjust="spacingAndGlyphs" fill="#000" stroke="#000" stroke-width="0.15" style="font-weight:bold">2</text>
<text x="505.32" y="260.91" font-size="9.01" textLength="5.31" lengthAdjust="spacingAndGlyphs" fill="#000" stroke="#000" stroke-width="0.15" style="font-weight:bold">2</text>
<text x="497.64" y="378.50" font-size="9.74" textLength="5.05" lengthAdjust="spacingAndGlyphs" fill="#000" stroke="#000" stroke-width="0.15" style="font-weight:bold">0</text><text x="502.69" y="378.50" font-size="9.74" textLength="2.51" lengthAdjust="spacingAndGlyphs" fill="#000" stroke="#000" stroke-width="0.15" style="font-weight:bold">.</text><text x="505.20" y="378.50" font-size="9.74" textLength="5.05" lengthAdjust="spacingAndGlyphs" fill="#000" stroke="#000" stroke-width="0.15" style="font-weight:bold">1</text><text x="510.76" y="378.50" font-size="9.74" textLength="6.75" lengthAdjust="spacingAndGlyphs" fill="#000" stroke="#000" stroke-width="0.35" style="font-weight:normal">%</text>
<rect x="552.40" y="275.02" width="12.10" height="87.53" fill="#FF0000" stroke="#000" stroke-width="1.40"/>
<rect x="552.40" y="222.50" width="12.10" height="52.52" fill="#2E75B6" stroke="#000" stroke-width="1.40"/>
<text x="556.17" y="322.18" font-size="9.01" textLength="5.14" lengthAdjust="spacingAndGlyphs" fill="#000" stroke="#000" stroke-width="0.15" style="font-weight:bold">5</text>
<text x="556.24" y="252.16" font-size="9.01" textLength="5.15" lengthAdjust="spacingAndGlyphs" fill="#000" stroke="#000" stroke-width="0.15" style="font-weight:bold">3</text>
<text x="551.96" y="378.50" font-size="9.74" textLength="5.17" lengthAdjust="spacingAndGlyphs" fill="#000" stroke="#000" stroke-width="0.15" style="font-weight:bold">1</text><text x="557.65" y="378.50" font-size="9.74" textLength="6.92" lengthAdjust="spacingAndGlyphs" fill="#000" stroke="#000" stroke-width="0.35" style="font-weight:normal">%</text>
<rect x="603.20" y="296.21" width="12.10" height="66.34" fill="#FF0000" stroke="#000" stroke-width="1.40"/>
<rect x="603.20" y="222.50" width="12.10" height="73.71" fill="#2E75B6" stroke="#000" stroke-width="1.40"/>
<text x="606.92" y="332.78" font-size="9.01" textLength="5.28" lengthAdjust="spacingAndGlyphs" fill="#000" stroke="#000" stroke-width="0.15" style="font-weight:bold">9</text>
<text x="604.49" y="262.76" font-size="9.01" textLength="4.96" lengthAdjust="spacingAndGlyphs" fill="#000" stroke="#000" stroke-width="0.15" style="font-weight:bold">1</text><text x="609.45" y="262.76" font-size="9.01" textLength="4.96" lengthAdjust="spacingAndGlyphs" fill="#000" stroke="#000" stroke-width="0.15" style="font-weight:bold">0</text>
<text x="600.38" y="378.50" font-size="9.74" textLength="5.06" lengthAdjust="spacingAndGlyphs" fill="#000" stroke="#000" stroke-width="0.15" style="font-weight:bold">1</text><text x="605.43" y="378.50" font-size="9.74" textLength="5.06" lengthAdjust="spacingAndGlyphs" fill="#000" stroke="#000" stroke-width="0.15" style="font-weight:bold">0</text><text x="611.00" y="378.50" font-size="9.74" textLength="6.76" lengthAdjust="spacingAndGlyphs" fill="#000" stroke="#000" stroke-width="0.35" style="font-weight:normal">%</text>
<rect x="654.00" y="282.52" width="12.10" height="80.03" fill="#FF0000" stroke="#000" stroke-width="1.40"/>
<rect x="654.00" y="222.50" width="12.10" height="60.02" fill="#2E75B6" stroke="#000" stroke-width="1.40"/>
<text x="655.29" y="325.94" font-size="9.01" textLength="4.96" lengthAdjust="spacingAndGlyphs" fill="#000" stroke="#000" stroke-width="0.15" style="font-weight:bold">1</text><text x="660.25" y="325.94" font-size="9.01" textLength="4.96" lengthAdjust="spacingAndGlyphs" fill="#000" stroke="#000" stroke-width="0.15" style="font-weight:bold">2</text>
<text x="657.72" y="255.91" font-size="9.01" textLength="5.28" lengthAdjust="spacingAndGlyphs" fill="#000" stroke="#000" stroke-width="0.15" style="font-weight:bold">9</text>
<text x="648.31" y="378.50" font-size="9.74" textLength="5.21" lengthAdjust="spacingAndGlyphs" fill="#000" stroke="#000" stroke-width="0.15" style="font-weight:bold">1</text><text x="653.52" y="378.50" font-size="9.74" textLength="5.21" lengthAdjust="spacingAndGlyphs" fill="#000" stroke="#000" stroke-width="0.15" style="font-weight:bold">0</text><text x="658.72" y="378.50" font-size="9.74" textLength="5.21" lengthAdjust="spacingAndGlyphs" fill="#000" stroke="#000" stroke-width="0.15" style="font-weight:bold">0</text><text x="664.46" y="378.50" font-size="9.74" textLength="6.97" lengthAdjust="spacingAndGlyphs" fill="#000" stroke="#000" stroke-width="0.35" style="font-weight:normal">%</text>
<line x1="412.10" y1="284.74" x2="450.80" y2="222.50" stroke="#000" stroke-width="1.30"/>
<line x1="462.90" y1="222.50" x2="501.60" y2="292.52" stroke="#000" stroke-width="1.30"/>
<line x1="513.70" y1="292.52" x2="552.40" y2="275.02" stroke="#000" stroke-width="1.30"/>
<line x1="564.50" y1="275.02" x2="603.20" y2="296.21" stroke="#000" stroke-width="1.30"/>
<line x1="615.30" y1="296.21" x2="654.00" y2="282.52" stroke="#000" stroke-width="1.30"/>
<line x1="399.30" y1="222.50" x2="666.80" y2="222.50" stroke="#5a5a5a" stroke-width="1.30"/>
</svg>
</body></html>
